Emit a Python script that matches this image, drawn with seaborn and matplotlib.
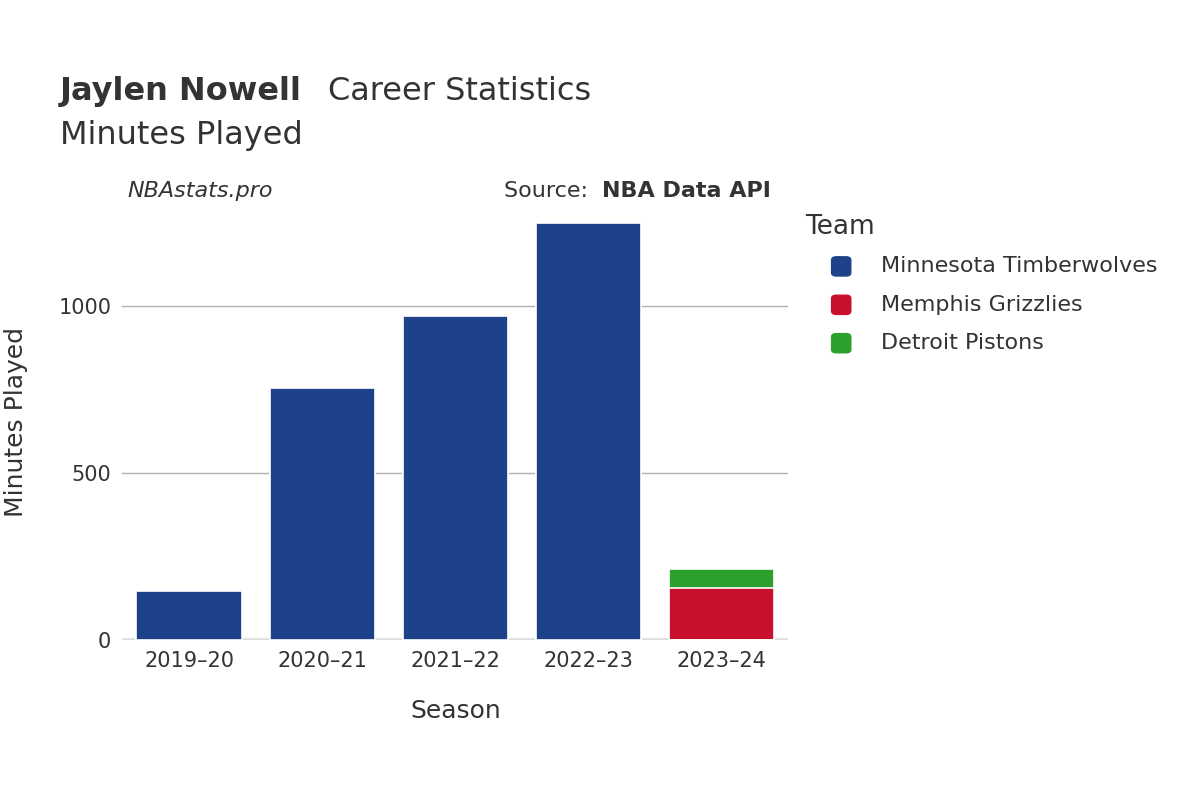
import matplotlib
matplotlib.use("Agg")
import matplotlib.pyplot as plt
import seaborn as sns
import pandas as pd

seasons = ["2019–20", "2020–21", "2021–22", "2022–23", "2023–24"]
teams = ["Minnesota Timberwolves", "Memphis Grizzlies", "Detroit Pistons"]
colors = ["#1d4289", "#c8102e", "#2ca02c"]
minnesota = [147, 754, 970, 1248, 0]
memphis = [0, 0, 0, 0, 156]
detroit = [0, 0, 0, 0, 57]

df = pd.DataFrame({"Season": seasons, "MIN": minnesota, "MEM": memphis, "DET": detroit})
df["s1"] = df["MIN"]
df["s2"] = df["MIN"] + df["MEM"]
df["s3"] = df["s2"] + df["DET"]

plt.rcParams["font.family"] = "DejaVu Sans"
fig = plt.figure(figsize=(12, 8), dpi=100)
ax = fig.add_axes([0.102, 0.2, 0.555, 0.546])

# stacked bars drawn as overlapping cumulative totals, top segment first
for col, c in [("s3", colors[2]), ("s2", colors[1]), ("s1", colors[0])]:
    sns.barplot(data=df, x="Season", y=col, color=c, width=0.79, ax=ax,
                edgecolor="white", linewidth=1.2, saturation=1)

ax.set_ylim(0, 1308)
ax.set_yticks([0, 500, 1000])
ax.grid(axis="y", color="#b0b0b0", linewidth=1)
ax.set_axisbelow(True)
for s in ax.spines.values():
    s.set_visible(False)
ax.axhline(0, color="#e6e6e6", linewidth=3, zorder=0)
ax.tick_params(length=0, labelsize=15, colors="#333333", pad=8)
ax.set_xlabel("Season", fontsize=18, color="#333333", labelpad=20)
ax.set_ylabel("Minutes Played", fontsize=18, color="#333333", labelpad=22)

fig.text(0.05, 0.875, "Jaylen Nowell", fontsize=23, fontweight="bold", color="#333333", va="baseline")
fig.text(0.273, 0.875, "Career Statistics", fontsize=23, color="#333333", va="baseline")
fig.text(0.05, 0.82, "Minutes Played", fontsize=23, color="#333333", va="baseline")
fig.text(0.106, 0.754, "NBAstats.pro", fontsize=16, style="italic", color="#333333")
fig.text(0.42, 0.754, "Source: ", fontsize=16, color="#333333")
fig.text(0.502, 0.754, "NBA Data API", fontsize=16, fontweight="bold", color="#333333")

fig.text(0.671, 0.707, "Team", fontsize=19, color="#333333")
for i, (t, c) in enumerate(zip(teams, colors)):
    y = 0.667 - i * 0.048
    fig.patches.append(matplotlib.patches.FancyBboxPatch(
        (0.693, y - 0.012), 0.016, 0.024, boxstyle="round,pad=0,rounding_size=0.004",
        transform=fig.transFigure, color=c))
    fig.text(0.734, y, t, fontsize=16, color="#333333", va="center")

fig.savefig("out.png")
